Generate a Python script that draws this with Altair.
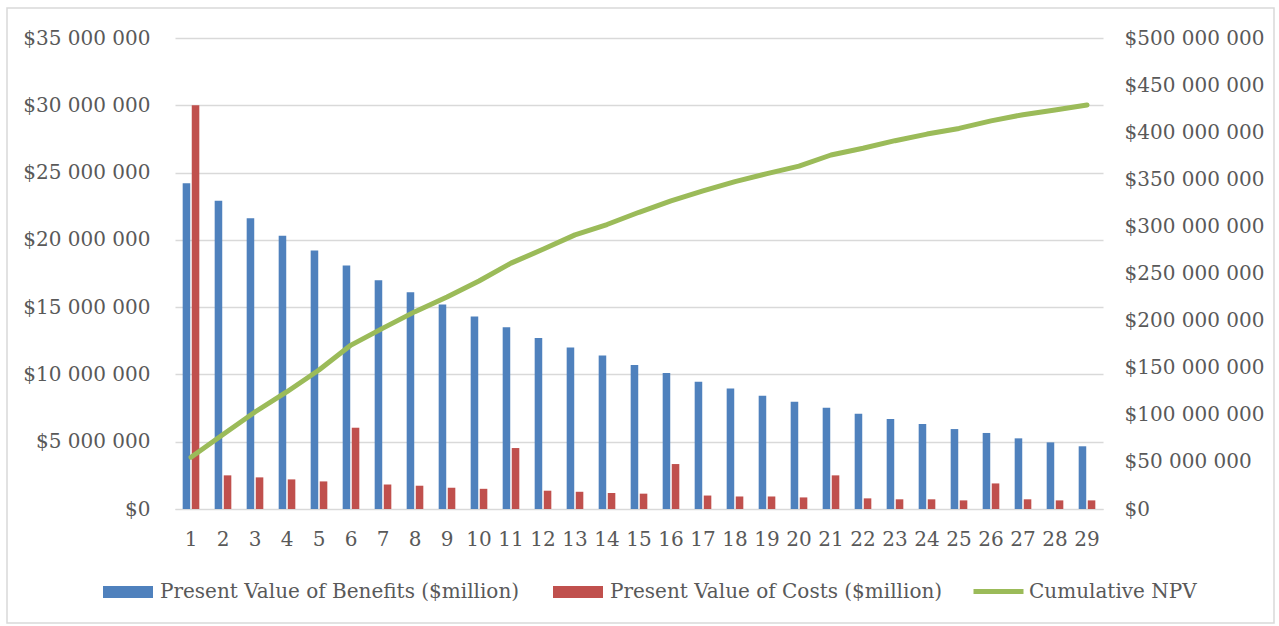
import altair as alt
import pandas as pd

# ---- data ----
years = list(range(1, 30))
# Present value of benefits, $ (read in millions)
benefits_m = [24.2, 22.9, 21.6, 20.3, 19.2, 18.1, 17.0, 16.1, 15.2, 14.3,
              13.5, 12.7, 12.0, 11.4, 10.7, 10.1, 9.46, 8.96, 8.42, 7.97,
              7.53, 7.08, 6.69, 6.32, 5.94, 5.65, 5.25, 4.95, 4.66]
# Present value of costs, $ (read in millions)
costs_m = [30.0, 2.5, 2.35, 2.2, 2.05, 6.04, 1.82, 1.73, 1.58, 1.5,
           4.53, 1.36, 1.28, 1.19, 1.14, 3.34, 1.0, 0.93, 0.93, 0.86,
           2.5, 0.79, 0.72, 0.72, 0.64, 1.9, 0.72, 0.64, 0.64]
# Cumulative NPV, $ (read in millions)
npv_m = [55, 79, 103, 124.5, 147.6, 174, 192, 209.5, 225, 242,
         261, 275.7, 291, 302, 315, 327, 337.6, 347.5, 356, 364,
         375.8, 383, 391, 398, 404, 412, 418.6, 423.6, 428.9]

series_benefits = "Present Value of Benefits ($million)"
series_costs = "Present Value of Costs ($million)"
series_npv = "Cumulative NPV"

left_ticks = [0, 5e6, 10e6, 15e6, 20e6, 25e6, 30e6, 35e6]
right_ticks = [0, 50e6, 100e6, 150e6, 200e6, 250e6, 300e6, 350e6, 400e6, 450e6, 500e6]

# ---- tables ----
bars_df = pd.DataFrame({
    "year": years * 2,
    "series": [series_benefits] * len(years) + [series_costs] * len(years),
    "value": [v * 1e6 for v in benefits_m] + [v * 1e6 for v in costs_m],
})
line_df = pd.DataFrame({
    "year": years,
    "series": [series_npv] * len(years),
    "value": [v * 1e6 for v in npv_m],
})

FONT = "DejaVu Serif"
FS = 20
TXT = "#595959"
GRID = "#d9d9d9"
label_expr = "'$' + replace(format(datum.value, ',d'), regexp(',', 'g'), ' ')"

xscale = alt.Scale(type="band", paddingInner=0.48, paddingOuter=0.24)
xaxis = alt.Axis(title=None, labelAngle=0, labelFont=FONT, labelFontSize=FS,
                 labelColor=TXT, ticks=False, tickSize=0, domainColor=GRID,
                 domainWidth=1, labelPadding=20, grid=False)

frame = alt.Chart(pd.DataFrame({"a": [0]})).mark_rect(
    fillOpacity=0, stroke=GRID, strokeWidth=1.5
).encode(
    x=alt.value(-168), x2=alt.value(1099), y=alt.value(-30), y2=alt.value(585)
)

bars = alt.Chart(bars_df).mark_bar().encode(
    x=alt.X("year:O", scale=xscale, axis=xaxis),
    xOffset=alt.XOffset("series:N", sort=[series_benefits, series_costs],
                        scale=alt.Scale(paddingInner=0.167, paddingOuter=0)),
    y=alt.Y("value:Q", scale=alt.Scale(domain=[0, 35e6], nice=False),
            axis=alt.Axis(title=None, orient="left", values=left_ticks,
                          labelExpr=label_expr, labelFont=FONT, labelFontSize=FS,
                          labelColor=TXT, ticks=False, tickSize=0, domain=False,
                          grid=True, gridColor=GRID, gridWidth=1.5,
                          labelPadding=25)),
    fill=alt.Fill("series:N",
                  scale=alt.Scale(domain=[series_benefits, series_costs],
                                  range=["#4F81BD", "#C0504D"]),
                  legend=alt.Legend(title=None, orient="none", direction="horizontal",
                                    legendX=-72, legendY=529,
                                    symbolType="M-1,-0.24H1V0.24H-1Z",
                                    symbolSize=2500, symbolStrokeWidth=0,
                                    labelFont=FONT, labelFontSize=FS,
                                    labelColor=TXT, labelLimit=600,
                                    labelOffset=7, columnPadding=33)),
)

line = alt.Chart(line_df).mark_line(strokeWidth=5, strokeCap="round",
                                    strokeJoin="round").encode(
    x=alt.X("year:O", scale=xscale, axis=xaxis),
    y=alt.Y("value:Q", scale=alt.Scale(domain=[0, 500e6], nice=False),
            axis=alt.Axis(title=None, orient="right", values=right_ticks,
                          labelExpr=label_expr, labelFont=FONT, labelFontSize=FS,
                          labelColor=TXT, ticks=False, tickSize=0, domain=False,
                          grid=False, labelPadding=21)),
    stroke=alt.Stroke("series:N",
                      scale=alt.Scale(domain=[series_npv], range=["#9BBB59"]),
                      legend=alt.Legend(title=None, orient="none",
                                        legendX=796, legendY=526,
                                        symbolType="stroke", symbolSize=2500,
                                        symbolStrokeWidth=5,
                                        labelFont=FONT, labelFontSize=FS,
                                        labelColor=TXT, labelLimit=600,
                                        labelOffset=3)),
)

chart = alt.layer(frame, bars, line).resolve_scale(
    y="independent"
).properties(
    width=928, height=471,
    padding={"left": 175, "top": 38, "right": 176, "bottom": 117},
    autosize=alt.AutoSizeParams(type="none"),
    background="white",
).configure_view(stroke=None)

chart.save("out.html", embed_options={"renderer": "svg", "actions": False})
